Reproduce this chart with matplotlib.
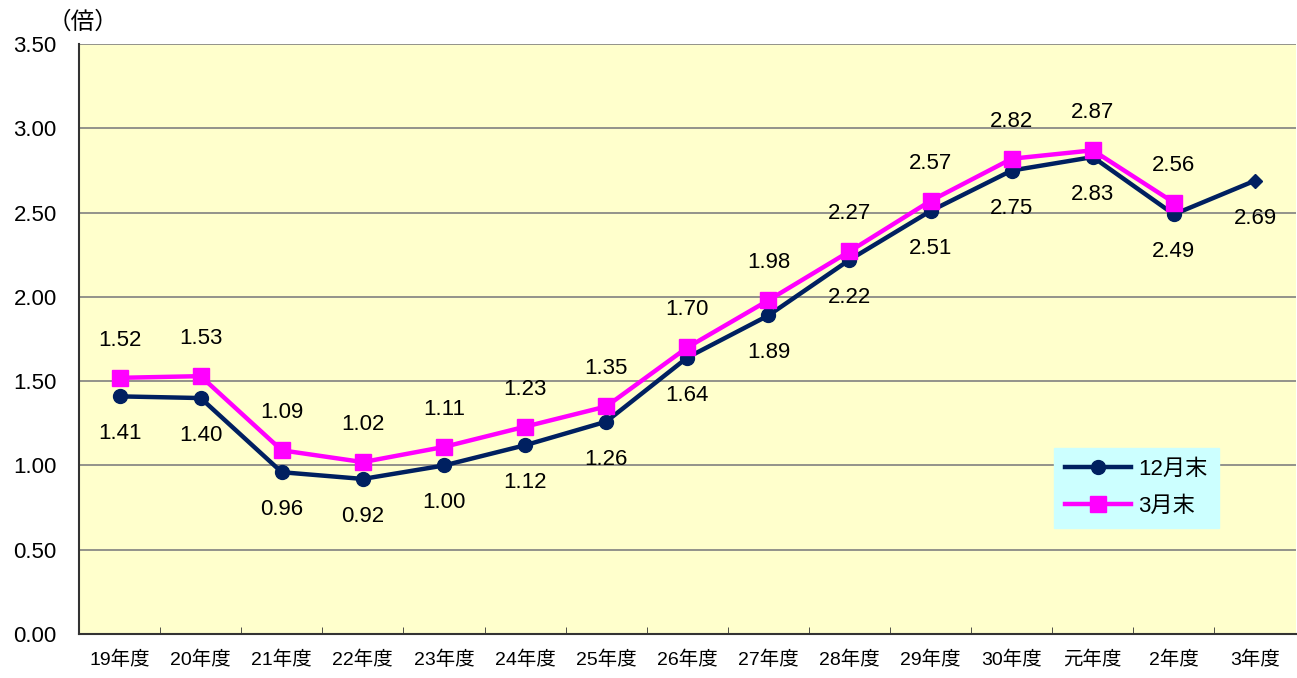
import matplotlib
matplotlib.use("Agg")
import matplotlib.pyplot as plt
import numpy as np

plt.rcParams['font.family'] = ['Liberation Sans', 'Noto Sans CJK JP']

years = ["19年度", "20年度", "21年度", "22年度", "23年度", "24年度", "25年度", "26年度",
         "27年度", "28年度", "29年度", "30年度", "元年度", "2年度", "3年度"]
dec_vals = [1.41, 1.40, 0.96, 0.92, 1.00, 1.12, 1.26, 1.64, 1.89, 2.22, 2.51, 2.75, 2.83, 2.49, 2.69]
mar_vals = [1.52, 1.53, 1.09, 1.02, 1.11, 1.23, 1.35, 1.70, 1.98, 2.27, 2.57, 2.82, 2.87, 2.56]
yticks = [0.0, 0.5, 1.0, 1.5, 2.0, 2.5, 3.0, 3.5]

NAVY = "#002060"
MAGENTA = "#FF00FF"

fig = plt.figure(figsize=(12.97, 6.78), dpi=100)
ax = fig.add_axes([0.0609, 0.0649, 0.938, 0.870])
ax.set_facecolor("#FFFFCC")

x = np.arange(len(years))
xm = np.arange(len(mar_vals))

for t in yticks[1:]:
    ax.axhline(t, color="#808080", lw=1.2, zorder=1)

ax.plot(x[:-1], dec_vals[:-1], color=NAVY, lw=3.2, marker="o", ms=10, zorder=3, label="12月末")
ax.plot(x[-2:], dec_vals[-2:], color=NAVY, lw=3.2, zorder=3)
ax.plot(x[-1], dec_vals[-1], color=NAVY, marker="D", ms=7, ls="none", zorder=3)
ax.plot(xm, mar_vals, color=MAGENTA, lw=3.2, marker="s", ms=11, zorder=4, label="3月末")

for xi, v in zip(x, dec_vals):
    ax.annotate(f"{v:.2f}", (xi, v), xytext=(0, -27), textcoords="offset points",
                ha="center", va="center", fontsize=16)
for xi, v in zip(xm, mar_vals):
    ax.annotate(f"{v:.2f}", (xi, v), xytext=(0, 27), textcoords="offset points",
                ha="center", va="center", fontsize=16)

ax.set_xlim(-0.5, len(years) - 0.5)
ax.set_ylim(0, 3.5)
ax.set_yticks(yticks)
ax.set_yticklabels([f"{t:.2f}" for t in yticks], fontsize=16)
ax.set_xticks(x)
ax.set_xticklabels(years, fontsize=14)
ax.tick_params(axis="x", length=0, pad=12)
ax.set_xticks(np.arange(0.5, len(years) - 1, 1), minor=True)
ax.tick_params(axis="x", which="minor", direction="in", length=5, color="#333333")
ax.tick_params(axis="y", length=0, pad=16)

for s in ["right", "top"]:
    ax.spines[s].set_visible(False)
ax.spines["left"].set_color("#333333")
ax.spines["bottom"].set_color("#333333")
ax.spines["left"].set_linewidth(1.5)
ax.spines["bottom"].set_linewidth(1.5)

ax.text(-0.45, 3.63, "（倍）", fontsize=17, ha="center", va="center", clip_on=False)

leg = ax.legend(loc="lower left", bbox_to_anchor=(0.792, 0.1615), fontsize=16,
                frameon=True, fancybox=False, handlelength=3.0, borderpad=0.5,
                labelspacing=0.7, handletextpad=0.3)
leg.get_frame().set_facecolor("#CCFFFF")
leg.get_frame().set_edgecolor("#CCFFFF")
leg.get_frame().set_alpha(1)

fig.savefig("out.png", dpi=100)
